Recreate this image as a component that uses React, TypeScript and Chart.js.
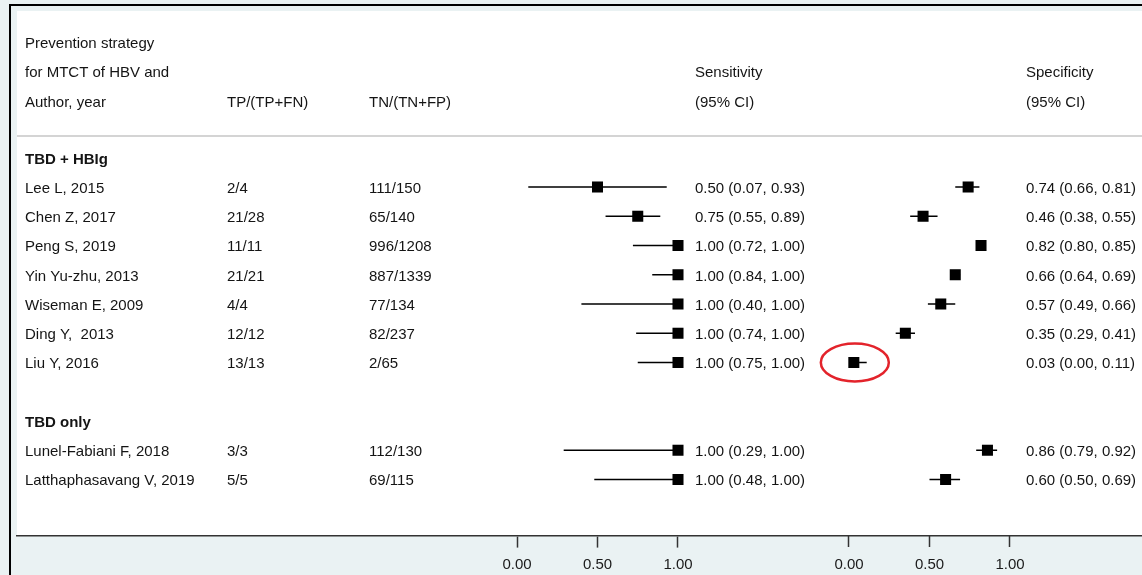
import { useEffect, useRef } from 'react';
import { Chart, registerables } from 'chart.js';

Chart.register(...registerables);

// ---- data ----
const groupNames = ['TBD + HBIg', 'TBD only'];
const studyGroup = [0, 0, 0, 0, 0, 0, 0, 1, 1];
const studies = [
  'Lee L, 2015',
  'Chen Z, 2017',
  'Peng S, 2019',
  'Yin Yu-zhu, 2013',
  'Wiseman E, 2009',
  'Ding Y,  2013',
  'Liu Y, 2016',
  'Lunel-Fabiani F, 2018',
  'Latthaphasavang V, 2019',
];
const truePos = [2, 21, 11, 21, 4, 12, 13, 3, 5];
const diseased = [4, 28, 11, 21, 4, 12, 13, 3, 5];
const trueNeg = [111, 65, 996, 887, 77, 82, 2, 112, 69];
const nonDiseased = [150, 140, 1208, 1339, 134, 237, 65, 130, 115];
const sens = [0.5, 0.75, 1.0, 1.0, 1.0, 1.0, 1.0, 1.0, 1.0];
const sensLow = [0.07, 0.55, 0.72, 0.84, 0.4, 0.74, 0.75, 0.29, 0.48];
const sensHigh = [0.93, 0.89, 1.0, 1.0, 1.0, 1.0, 1.0, 1.0, 1.0];
const spec = [0.74, 0.46, 0.82, 0.66, 0.57, 0.35, 0.03, 0.86, 0.6];
const specLow = [0.66, 0.38, 0.8, 0.64, 0.49, 0.29, 0.0, 0.79, 0.5];
const specHigh = [0.81, 0.55, 0.85, 0.69, 0.66, 0.41, 0.11, 0.92, 0.69];
const axisTicks = [0, 0.5, 1];
const highlightedStudy = 6;

// ---- layout ----
const W = 1142;
const H = 575;
const FONT = '"Liberation Sans", Arial, Helvetica, sans-serif';
const BG = '#eaf2f3';
const Y_MIN = -6.017;
const Y_MAX = 11.932;
const SEPARATOR_ROW = -1.74;
const TEXT_DY = 6;
const HEADER_DY = 7.5;
const COL = { study: 25, tp: 227, tn: 369, sensText: 695, specText: 1026 };

// row index for each group title and each study (blank row between groups)
const groupRow: number[] = [];
const studyRow: number[] = [];
{
  let r = -1;
  groupNames.forEach((_, g) => {
    groupRow[g] = r++;
    studies.forEach((_, i) => {
      if (studyGroup[i] === g) studyRow[i] = r++;
    });
    r++;
  });
}

const fmt = (v: number) => v.toFixed(2);
const ciText = (e: number, lo: number, hi: number) => `${fmt(e)} (${fmt(lo)}, ${fmt(hi)})`;

const forestPlugin = {
  id: 'forestLayout',
  beforeDraw(chart: any) {
    const { ctx, chartArea: a } = chart;
    ctx.save();
    ctx.fillStyle = BG;
    ctx.fillRect(0, 0, W, H);
    ctx.fillStyle = '#ffffff';
    ctx.fillRect(a.left, a.top, a.right - a.left, a.bottom - a.top);
    ctx.fillStyle = '#000000';
    ctx.fillRect(9, 4, W - 9, 2);
    ctx.fillRect(9, 4, 2, H - 4);
    const ys = chart.scales.y.getPixelForValue(SEPARATOR_ROW);
    ctx.strokeStyle = '#c6c6c6';
    ctx.lineWidth = 1.5;
    ctx.beginPath();
    ctx.moveTo(a.left, ys);
    ctx.lineTo(a.right, ys);
    ctx.stroke();
    ctx.restore();
  },
  beforeDatasetsDraw(chart: any) {
    const { ctx } = chart;
    const y = chart.scales.y;
    const xs = chart.scales.xSens;
    const xp = chart.scales.xSpec;
    ctx.save();
    ctx.strokeStyle = '#000000';
    ctx.lineWidth = 1.4;
    studies.forEach((_, i) => {
      const py = y.getPixelForValue(studyRow[i]);
      ctx.beginPath();
      ctx.moveTo(xs.getPixelForValue(sensLow[i]), py);
      ctx.lineTo(xs.getPixelForValue(sensHigh[i]), py);
      ctx.moveTo(xp.getPixelForValue(specLow[i]), py);
      ctx.lineTo(xp.getPixelForValue(specHigh[i]), py);
      ctx.stroke();
    });
    ctx.restore();
  },
  afterDraw(chart: any) {
    const { ctx } = chart;
    const y = chart.scales.y;
    const xp = chart.scales.xSpec;
    const at = (row: number) => y.getPixelForValue(row) + TEXT_DY;
    const head = (row: number) => y.getPixelForValue(row) + HEADER_DY;
    ctx.save();
    ctx.fillStyle = '#141414';
    ctx.textBaseline = 'alphabetic';
    ctx.textAlign = 'left';
    ctx.font = `15px ${FONT}`;

    // column headers
    ctx.fillText('Prevention strategy', COL.study, head(-5));
    ctx.fillText('for MTCT of HBV and', COL.study, head(-4));
    ctx.fillText('Author, year', COL.study, head(-3));
    ctx.fillText('TP/(TP+FN)', COL.tp, head(-3));
    ctx.fillText('TN/(TN+FP)', COL.tn, head(-3));
    ctx.fillText('Sensitivity', COL.sensText, head(-4));
    ctx.fillText('(95% CI)', COL.sensText, head(-3));
    ctx.fillText('Specificity', COL.specText, head(-4));
    ctx.fillText('(95% CI)', COL.specText, head(-3));

    // study rows
    studies.forEach((name, i) => {
      const py = at(studyRow[i]);
      ctx.fillText(name, COL.study, py);
      ctx.fillText(`${truePos[i]}/${diseased[i]}`, COL.tp, py);
      ctx.fillText(`${trueNeg[i]}/${nonDiseased[i]}`, COL.tn, py);
      ctx.fillText(ciText(sens[i], sensLow[i], sensHigh[i]), COL.sensText, py);
      ctx.fillText(ciText(spec[i], specLow[i], specHigh[i]), COL.specText, py);
    });

    // group titles
    ctx.font = `bold 15px ${FONT}`;
    groupNames.forEach((g, k) => ctx.fillText(g, COL.study, at(groupRow[k])));

    // red ring around the highlighted specificity estimate
    const cx = xp.getPixelForValue(spec[highlightedStudy]) + 1;
    const cy = y.getPixelForValue(studyRow[highlightedStudy]);
    ctx.strokeStyle = '#e3232b';
    ctx.lineWidth = 2.5;
    ctx.beginPath();
    ctx.ellipse(cx, cy, 34, 19, 0, 0, Math.PI * 2);
    ctx.stroke();
    ctx.restore();
  },
};

function xAxis(min: number, max: number, showBorder: boolean) {
  return {
    type: 'linear' as const,
    position: { y: Y_MAX },
    min,
    max,
    afterBuildTicks: (s: any) => {
      s.ticks = axisTicks.map((v) => ({ value: v }));
    },
    afterFit: (s: any) => {
      s.paddingLeft = 0;
      s.paddingRight = 0;
    },
    ticks: {
      callback: (v: any) => Number(v).toFixed(2),
      font: { family: FONT, size: 15 },
      color: '#1a1a1a',
      padding: 9,
      autoSkip: false,
      maxRotation: 0,
    },
    grid: {
      drawOnChartArea: false,
      drawTicks: true,
      tickLength: 11,
      tickColor: '#333333',
      tickWidth: 1.5,
    },
    border: { display: showBorder, color: '#333333', width: 1.6 },
  };
}

export default function App() {
  const canvasRef = useRef<HTMLCanvasElement | null>(null);

  useEffect(() => {
    if (!canvasRef.current) return;
    const chart = new Chart(canvasRef.current, {
      type: 'scatter',
      data: {
        datasets: [
          {
            label: 'Sensitivity',
            data: sens.map((v, i) => ({ x: v, y: studyRow[i] })),
            xAxisID: 'xSens',
            yAxisID: 'y',
            pointStyle: 'rect',
            pointRadius: 7.8,
            pointHoverRadius: 7.8,
            backgroundColor: '#000000',
            borderWidth: 0,
          },
          {
            label: 'Specificity',
            data: spec.map((v, i) => ({ x: v, y: studyRow[i] })),
            xAxisID: 'xSpec',
            yAxisID: 'y',
            pointStyle: 'rect',
            pointRadius: 7.8,
            pointHoverRadius: 7.8,
            backgroundColor: '#000000',
            borderWidth: 0,
          },
        ],
      },
      options: {
        animation: false,
        responsive: false,
        devicePixelRatio: 1,
        events: [],
        layout: { autoPadding: false, padding: { left: 17, top: 11, right: 0, bottom: 39 } },
        plugins: { legend: { display: false }, tooltip: { enabled: false } },
        scales: {
          y: { type: 'linear', display: false, reverse: true, min: Y_MIN, max: Y_MAX },
          xSens: xAxis(-3.1056, 3.882, true),
          xSpec: xAxis(-5.1677, 1.8199, false),
        } as any,
      },
      plugins: [forestPlugin],
    });
    return () => chart.destroy();
  }, []);

  return (
    <div style={{ position: 'absolute', left: 0, top: 0, width: W, height: H }}>
      <canvas ref={canvasRef} width={W} height={H} style={{ display: 'block' }} />
    </div>
  );
}
